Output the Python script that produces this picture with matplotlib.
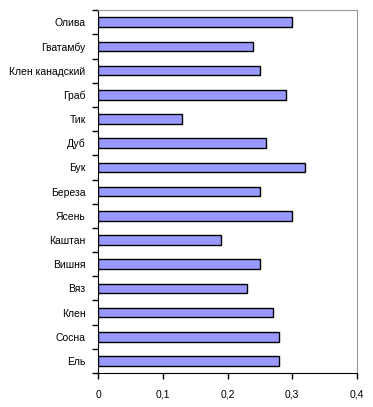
import numpy as np
import matplotlib
matplotlib.use("Agg")
from matplotlib import pyplot as plt

# породы дерева, снизу вверх
species = ["Ель", "Сосна", "Клен", "Вяз", "Вишня", "Каштан", "Ясень", "Береза",
           "Бук", "Дуб", "Тик", "Граб", "Клен канадский", "Гватамбу", "Олива"]
values = [0.28, 0.28, 0.27, 0.23, 0.25, 0.19, 0.30, 0.25,
          0.32, 0.26, 0.13, 0.29, 0.25, 0.24, 0.30]
xticks = [0, 0.1, 0.2, 0.3, 0.4]
xlabels = ["0", "0,1", "0,2", "0,3", "0,4"]

plt.rcParams['font.family'] = ['Liberation Sans', 'DejaVu Sans']

fig = plt.figure(figsize=(3.73, 4.07), dpi=100)
ax = fig.add_axes([0.263, 0.0835, 0.694, 0.8915])

y = np.arange(len(species))
ax.barh(y, values, height=0.4, color="#9999ff", edgecolor="black", linewidth=1)

ax.set_xlim(0, 0.4)
ax.set_ylim(-0.5, len(species) - 0.5)
ax.set_xticks(xticks)
ax.set_xticklabels(xlabels, fontsize=7.5)
ax.set_yticks(y)
ax.set_yticklabels(species, fontsize=7.5)
ax.set_yticks(np.arange(len(species) + 1) - 0.5, minor=True)
ax.tick_params(axis="y", which="major", length=0, pad=9)
ax.tick_params(axis="y", which="minor", length=4, width=1, direction="out")
ax.tick_params(axis="x", length=4, width=1, direction="out", pad=8)

ax.spines["left"].set_color("black")
ax.spines["bottom"].set_color("black")
ax.spines["top"].set_color("#999999")
ax.spines["right"].set_color("#999999")

fig.savefig("out.png", dpi=100)
